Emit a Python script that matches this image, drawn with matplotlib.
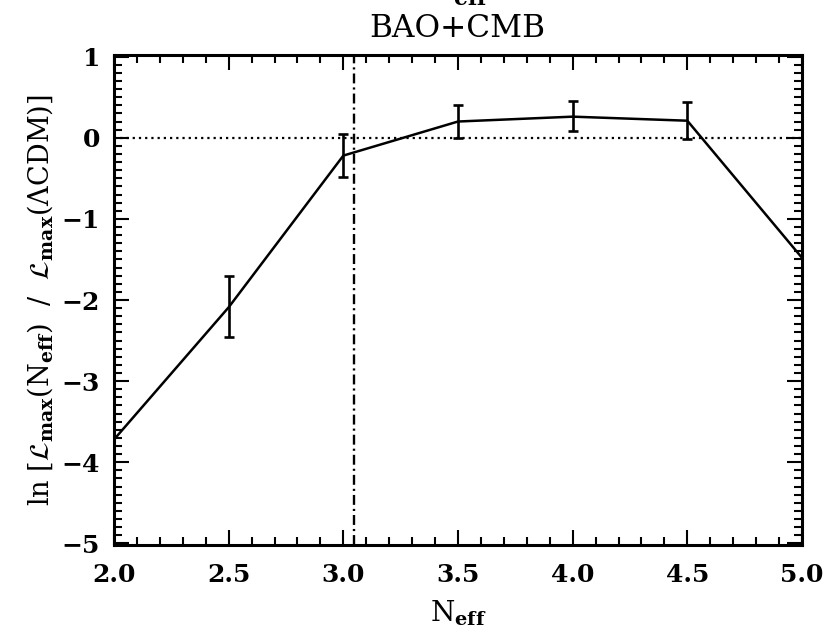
import matplotlib
matplotlib.use("Agg")
import matplotlib.pyplot as plt
from matplotlib.ticker import MultipleLocator, FormatStrFormatter, FuncFormatter

neff = [2.0, 2.5, 3.0, 3.5, 4.0, 4.5, 5.0]
lnL = [-3.72, -2.09, -0.22, 0.20, 0.26, 0.21, -1.48]
err_x = [2.5, 3.0, 3.5, 4.0, 4.5]
err_y = [-2.09, -0.22, 0.20, 0.26, 0.21]
err_lo = [0.37, 0.26, 0.20, 0.18, 0.22]
err_hi = [0.38, 0.27, 0.20, 0.19, 0.23]
neff_std = 3.046

plt.rcParams['font.family'] = ['DejaVu Serif']
plt.rcParams['mathtext.fontset'] = 'dejavuserif'

fig = plt.figure(figsize=(8.27, 6.29), dpi=100)
ax = fig.add_axes([114/827, 1-545/629, (802-114)/827, (545-55)/629])

ax.plot(neff, lnL, color='black', lw=1.8)
ax.errorbar(err_x, err_y, yerr=[err_lo, err_hi], fmt='none', ecolor='black',
            elinewidth=1.9, capsize=3.5, capthick=1.9)
ax.axhline(0, color='black', lw=1.6, ls=(0, (1, 1.8)))
ax.axvline(neff_std, color='black', lw=1.7, ls=(0, (4.2, 1.7, 0.9, 1.7)))

ax.set_xlim(2.0, 5.0)
ax.set_ylim(-5.02, 1.02)
ax.xaxis.set_major_locator(MultipleLocator(0.5))
ax.xaxis.set_minor_locator(MultipleLocator(0.1))
ax.yaxis.set_major_locator(MultipleLocator(1))
ax.yaxis.set_minor_locator(MultipleLocator(0.1))
ax.xaxis.set_major_formatter(FormatStrFormatter('%.1f'))
ax.yaxis.set_major_formatter(FuncFormatter(
    lambda v, p: ('\u2212%d' % abs(round(v))) if v < 0 else '%d' % round(v)))
ax.tick_params(which='both', direction='in', top=True, right=True, width=1.5,
               labelsize=18)
ax.tick_params(which='major', length=10.8)
ax.tick_params(which='minor', length=5.8)
ax.tick_params(axis='x', which='major', pad=13)
ax.tick_params(axis='y', which='major', pad=10)
for s in ax.spines.values():
    s.set_linewidth(2.2)
for lab in ax.get_xticklabels() + ax.get_yticklabels():
    lab.set_fontweight('bold')

ax.set_xlabel(r'N$_{\mathbf{eff}}$', fontsize=20, va='baseline')
ax.xaxis.set_label_coords(0.5, (545-622)/490)
ax.set_ylabel(r'ln $[\mathcal{L}_{\mathbf{max}}$(N$_{\mathbf{eff}}$)  /  $\mathcal{L}_{\mathbf{max}}$($\Lambda$CDM)]',
              fontsize=19.5, va='center', ha='center')
ax.yaxis.set_label_coords((40-114)/688, 0.5)
fig.text(457/827, 1-37/629, 'BAO+CMB', ha='center', va='baseline', fontsize=22.5)
fig.text(458/827, 1-1/629, r'N$_{\mathbf{eff}}$', ha='center', va='baseline', fontsize=22.5)

fig.savefig('out.png', dpi=100)
